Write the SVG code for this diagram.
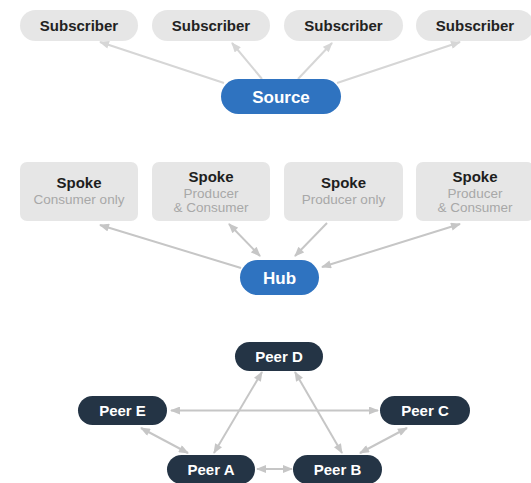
<svg xmlns="http://www.w3.org/2000/svg" width="531" height="483" viewBox="0 0 531 483">
<style>
.sub{fill:#e6e6e6}
.st{font-family:"Liberation Sans",Arial,sans-serif;font-weight:bold;font-size:15px;fill:#222;text-anchor:middle}
.blue{fill:#2f73c0}
.wt{font-family:"Liberation Sans",Arial,sans-serif;font-weight:bold;font-size:17px;fill:#fff;text-anchor:middle}
.spk{fill:#e6e6e6}
.sp1{font-family:"Liberation Sans",Arial,sans-serif;font-weight:bold;font-size:15px;fill:#1e1e1e;text-anchor:middle}
.sp2{font-family:"Liberation Sans",Arial,sans-serif;font-size:13.5px;fill:#a8a8a8;text-anchor:middle}
.peer{fill:#243445}
.pt{font-family:"Liberation Sans",Arial,sans-serif;font-weight:bold;font-size:15px;fill:#fff;text-anchor:middle}
.c1{stroke:#d6d6d6;stroke-width:2;fill:none}
.c2{stroke:#c6c6c6;stroke-width:2;fill:none}
</style>
<defs>
<marker id="a1" viewBox="0 0 10 8" refX="9" refY="4" markerWidth="11" markerHeight="8" markerUnits="userSpaceOnUse" orient="auto-start-reverse"><path d="M0,0 L10,4 L0,8 Z" fill="#d6d6d6"/></marker>
<marker id="a2" viewBox="0 0 10 8" refX="9" refY="4" markerWidth="11" markerHeight="8" markerUnits="userSpaceOnUse" orient="auto-start-reverse"><path d="M0,0 L10,4 L0,8 Z" fill="#c6c6c6"/></marker>
</defs>
<g id="connectors">
<line class="c1" x1="224" y1="83" x2="100" y2="42" marker-end="url(#a1)"/>
<line class="c1" x1="262" y1="79" x2="232" y2="43" marker-end="url(#a1)"/>
<line class="c1" x1="298" y1="79" x2="332" y2="43" marker-end="url(#a1)"/>
<line class="c1" x1="337" y1="83" x2="460" y2="42" marker-end="url(#a1)"/>
<line class="c2" x1="241" y1="268" x2="100" y2="225" marker-end="url(#a2)"/>
<line class="c2" x1="229" y1="224" x2="260" y2="256" marker-start="url(#a2)" marker-end="url(#a2)"/>
<line class="c2" x1="327" y1="223" x2="295" y2="256" marker-end="url(#a2)"/>
<line class="c2" x1="460" y1="224" x2="322" y2="267" marker-start="url(#a2)" marker-end="url(#a2)"/>
<line class="c2" x1="171" y1="410.5" x2="378" y2="410.5" marker-start="url(#a2)" marker-end="url(#a2)"/>
<line class="c2" x1="141" y1="428" x2="188" y2="453" marker-start="url(#a2)" marker-end="url(#a2)"/>
<line class="c2" x1="214" y1="453" x2="262" y2="372" marker-start="url(#a2)" marker-end="url(#a2)"/>
<line class="c2" x1="295" y1="372" x2="342" y2="453" marker-start="url(#a2)" marker-end="url(#a2)"/>
<line class="c2" x1="407" y1="428" x2="360" y2="453" marker-start="url(#a2)" marker-end="url(#a2)"/>
<line class="c2" x1="257" y1="469" x2="292" y2="469" marker-start="url(#a2)" marker-end="url(#a2)"/>
</g>
<g id="sub1"><rect class="sub" x="20" y="10" width="118" height="31" rx="15.5"/><text class="st" x="79" y="31">Subscriber</text></g>
<g id="sub2"><rect class="sub" x="152" y="10" width="118" height="31" rx="15.5"/><text class="st" x="211" y="31">Subscriber</text></g>
<g id="sub3"><rect class="sub" x="284" y="10" width="119" height="31" rx="15.5"/><text class="st" x="343.5" y="31">Subscriber</text></g>
<g id="sub4"><rect class="sub" x="416" y="10" width="118" height="31" rx="15.5"/><text class="st" x="475" y="31">Subscriber</text></g>
<g id="source"><rect class="blue" x="221" y="79" width="120" height="35" rx="17.5"/><text class="wt" x="281" y="102.5">Source</text></g>
<g id="spoke1"><rect class="spk" x="20" y="162" width="118" height="59" rx="7"/><text class="sp1" x="79" y="188">Spoke</text><text class="sp2" x="79" y="204">Consumer only</text></g>
<g id="spoke2"><rect class="spk" x="152" y="162" width="118" height="59" rx="7"/><text class="sp1" x="211" y="182">Spoke</text><text class="sp2" x="211" y="198">Producer</text><text class="sp2" x="211" y="212">&amp; Consumer</text></g>
<g id="spoke3"><rect class="spk" x="284" y="162" width="119" height="59" rx="7"/><text class="sp1" x="343.5" y="188">Spoke</text><text class="sp2" x="343.5" y="204">Producer only</text></g>
<g id="spoke4"><rect class="spk" x="416" y="162" width="118" height="59" rx="7"/><text class="sp1" x="475" y="182">Spoke</text><text class="sp2" x="475" y="198">Producer</text><text class="sp2" x="475" y="212">&amp; Consumer</text></g>
<g id="hub"><rect class="blue" x="240" y="260" width="79" height="35" rx="17.5"/><text class="wt" x="279.5" y="283.5">Hub</text></g>
<g id="peerD"><rect class="peer" x="235" y="342" width="88" height="29" rx="14.5"/><text class="pt" x="279" y="362">Peer D</text></g>
<g id="peerE"><rect class="peer" x="78" y="396" width="89" height="29" rx="14.5"/><text class="pt" x="122.5" y="416">Peer E</text></g>
<g id="peerC"><rect class="peer" x="380" y="396" width="90" height="29" rx="14.5"/><text class="pt" x="425" y="416">Peer C</text></g>
<g id="peerA"><rect class="peer" x="167" y="455" width="88" height="29" rx="14.5"/><text class="pt" x="211" y="475">Peer A</text></g>
<g id="peerB"><rect class="peer" x="293" y="455" width="89" height="29" rx="14.5"/><text class="pt" x="337.5" y="475">Peer B</text></g>
</svg>
